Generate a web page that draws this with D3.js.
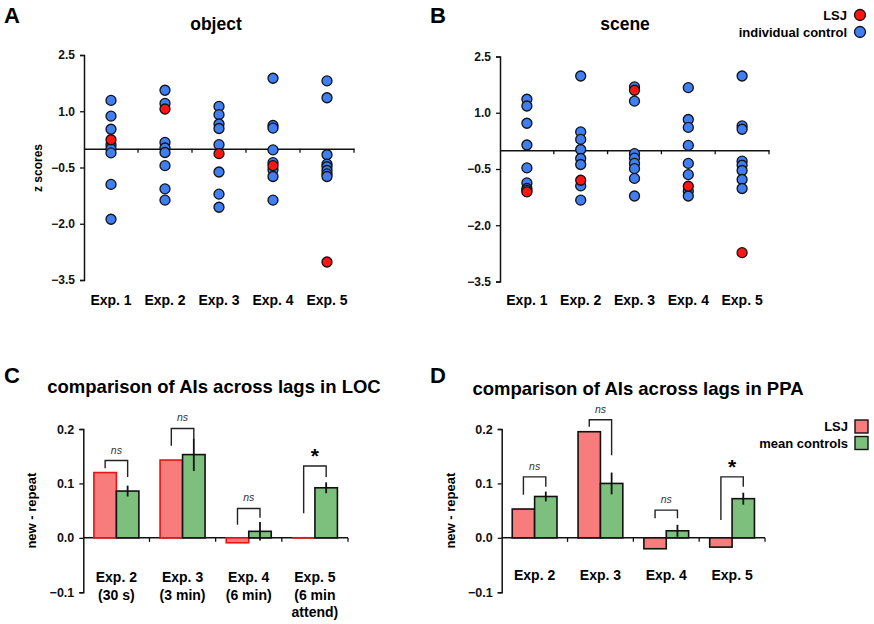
<!DOCTYPE html>
<html><head><meta charset="utf-8">
<script src="https://cdn.jsdelivr.net/npm/d3@7"></script>
<style>
body{margin:0;background:#fff;}
text{font-family:"Liberation Sans",Arial,sans-serif;}
</style></head>
<body><svg id="c" width="874" height="624"></svg>
<script>
// ---------- DATA ----------
const scatterCats = ["Exp. 1","Exp. 2","Exp. 3","Exp. 4","Exp. 5"];
const zTicks = [2.5, 1.0, -0.5, -2.0, -3.5];
const objectControls = [
  [1.29, 0.87, 0.52, 0.11, 0.0, -0.11, -0.95, -1.88],
  [1.56, 1.21, 0.17, 0.02, -0.10, -0.45, -1.07, -1.37],
  [1.13, 0.91, 0.66, 0.54, 0.11, -0.62, -1.21, -1.56],
  [1.88, 0.62, 0.55, -0.03, -0.37, -0.56, -0.74, -1.37],
  [1.81, 1.36, -0.16, -0.41, -0.48, -0.58, -0.67, -0.74]
];
const objectLSJ = [0.24, 1.06, -0.13, -0.45, -3.02];
const sceneControls = [
  [1.36, 1.18, 0.72, 0.14, -0.47, -0.87, -1.02, -1.07],
  [1.98, 0.49, 0.29, 0.02, -0.22, -0.38, -0.95, -1.33],
  [1.69, 1.31, -0.09, -0.21, -0.35, -0.49, -0.75, -1.22],
  [1.67, 0.82, 0.61, 0.13, -0.35, -0.65, -1.09, -1.22],
  [1.98, 0.65, 0.56, -0.29, -0.40, -0.54, -0.78, -1.02]
];
const sceneLSJ = [-1.11, -0.80, 1.60, -0.96, -2.73];

const barTicks = [0.2, 0.1, 0.0, -0.1];
const locCats = [["Exp. 2","(30 s)"],["Exp. 3","(3 min)"],["Exp. 4","(6 min)"],["Exp. 5","(6 min","attend)"]];
const locLSJ = [0.120, 0.143, -0.009, 0.0];
const locControls = [0.086, 0.153, 0.012, 0.092];
const locErr = [0.010, 0.030, 0.017, 0.010];
const locSig = ["ns","ns","ns","*"];
const locBracketTop = [0.142, 0.201, 0.054, 0.132];
const locBracketLeft = [0.128, 0.169, 0.024, 0.045];
const locBracketRight = [0.112, 0.183, 0.037, 0.112];

const ppaCats = [["Exp. 2"],["Exp. 3"],["Exp. 4"],["Exp. 5"]];
const ppaLSJ = [0.053, 0.195, -0.020, -0.017];
const ppaControls = [0.076, 0.100, 0.013, 0.072];
const ppaErr = [0.009, 0.020, 0.011, 0.011];
const ppaSig = ["ns","ns","ns","*"];
const ppaBracketTop = [0.112, 0.217, 0.051, 0.112];
const ppaBracketLeft = [0.079, 0.204, 0.036, 0.033];
const ppaBracketRight = [0.094, 0.152, 0.036, 0.094];

// ---------- STYLE ----------
const BLUE = "#3f7ef3", RED = "#ff1414";
const BAR_RED = "#f87c7c", BAR_GREEN = "#7dbf7d";
const svg = d3.select("#c");

function panelLetter(t, x, y){
  svg.append("text").attr("x",x).attr("y",y).attr("font-size",22).attr("font-weight","bold").text(t);
}
function title(t, x, y, size){
  svg.append("text").attr("x",x).attr("y",y).attr("text-anchor","middle")
    .attr("font-size",size).attr("font-weight","bold").text(t);
}

// ---------- SCATTER ----------
function scatter(opt){
  const x = d3.scaleBand().domain(scatterCats).range([opt.x0,opt.x1]);
  const y = d3.scaleLinear().domain([-3.5,2.5]).range([opt.yB,opt.yT]);
  const g = svg.append("g");
  const ya = g.append("g").attr("transform",`translate(${opt.x0},0)`)
    .call(d3.axisLeft(y).tickValues(zTicks).tickFormat(d3.format(".1f")).tickSize(4).tickPadding(5));
  ya.select(".domain").attr("stroke","#111").attr("stroke-width",1.5);
  ya.selectAll(".tick line").attr("stroke","#111").attr("stroke-width",1.3);
  ya.selectAll(".tick text").attr("font-size",12).attr("font-weight","bold").attr("fill","#111")
    .attr("font-family","Liberation Sans, Arial, sans-serif");
  const xa = g.append("g").attr("transform",`translate(0,${y(0)})`)
    .call(d3.axisBottom(x).tickValues([]).tickSizeOuter(0));
  xa.select(".domain").attr("stroke","#111").attr("stroke-width",1.5);
  scatterCats.forEach(c=>{
    const bx = x(c)+x.bandwidth();
    g.append("line").attr("x1",bx).attr("x2",bx).attr("y1",y(0)).attr("y2",y(0)+4)
      .attr("stroke","#111").attr("stroke-width",1.3);
  });
  scatterCats.forEach(c=>{
    g.append("text").attr("x",x(c)+x.bandwidth()/2).attr("y",305).attr("text-anchor","middle")
      .attr("font-size",14).attr("font-weight","bold").text(c);
  });
  opt.controls.forEach((arr,i)=>{
    arr.forEach(v=>{
      g.append("circle").attr("cx",x(scatterCats[i])+x.bandwidth()/2).attr("cy",y(v)).attr("r",5)
        .attr("fill",BLUE).attr("stroke","#111").attr("stroke-width",1.3);
    });
  });
  opt.lsj.forEach((v,i)=>{
    g.append("circle").attr("cx",x(scatterCats[i])+x.bandwidth()/2).attr("cy",y(v)).attr("r",5)
      .attr("fill",RED).attr("stroke","#111").attr("stroke-width",1.3);
  });
}
scatter({x0:84,x1:354,yT:55,yB:280,controls:objectControls,lsj:objectLSJ});
scatter({x0:500,x1:769,yT:56.5,yB:281.5,controls:sceneControls,lsj:sceneLSJ});
panelLetter("A",4,23); panelLetter("B",430,23);
title("object",216,30,17.5); title("scene",625,29.5,17.5);
svg.append("text").attr("transform","translate(42,168) rotate(-90)").attr("text-anchor","middle")
  .attr("font-size",12).attr("font-weight","bold").text("z scores");
[["LSJ",RED,15],["individual control",BLUE,32]].forEach(([t,c,yy])=>{
  svg.append("text").attr("x",847).attr("y",yy+4.5).attr("text-anchor","end")
    .attr("font-size",13).attr("font-weight","bold").text(t);
  svg.append("circle").attr("cx",860).attr("cy",yy).attr("r",5.5).attr("fill",c)
    .attr("stroke","#111").attr("stroke-width",1.3);
});

// ---------- BARS ----------
function bars(opt){
  const names = opt.cats.map(c=>c.join(" "));
  const x = d3.scaleBand().domain(names).range([opt.x0,opt.x1]).paddingInner(0.32).paddingOuter(0.16);
  const sub = d3.scaleBand().domain(["LSJ","ctrl"]).range([0,x.bandwidth()]);
  const y = d3.scaleLinear().domain([-0.1,0.2]).range([592.3,429]);
  const g = svg.append("g");
  const ya = g.append("g").attr("transform",`translate(${opt.x0},0)`)
    .call(d3.axisLeft(y).tickValues(barTicks).tickFormat(d3.format(".1f")).tickSize(4).tickPadding(5));
  ya.select(".domain").attr("stroke","#111").attr("stroke-width",1.5);
  ya.selectAll(".tick line").attr("stroke","#111").attr("stroke-width",1.3);
  ya.selectAll(".tick text").attr("font-size",12.5).attr("font-weight","bold").attr("fill","#111")
    .attr("font-family","Liberation Sans, Arial, sans-serif");
  g.append("line").attr("x1",opt.x0).attr("x2",opt.x1).attr("y1",y(0)).attr("y2",y(0))
    .attr("stroke","#111").attr("stroke-width",1.5);
  names.forEach(n=>{
    const bx = x(n)+x.bandwidth()+x.step()*x.paddingInner()/2;
    g.append("line").attr("x1",bx).attr("x2",bx).attr("y1",y(0)).attr("y2",y(0)+4)
      .attr("stroke","#111").attr("stroke-width",1.3);
  });
  names.forEach((n,i)=>{
    const gx = x(n);
    const rv = opt.lsj[i], cv = opt.ctrl[i];
    const rh = Math.abs(y(rv)-y(0));
    if(rh < 0.5){
      g.append("line").attr("x1",gx+sub("LSJ")).attr("x2",gx+sub("LSJ")+sub.bandwidth())
        .attr("y1",y(rv)).attr("y2",y(rv)).attr("stroke",opt.redStroke).attr("stroke-width",1.8);
    } else {
      g.append("rect").attr("x",gx+sub("LSJ")).attr("width",sub.bandwidth())
        .attr("y",y(Math.max(rv,0))).attr("height",rh)
        .attr("fill",BAR_RED).attr("stroke",opt.redStroke).attr("stroke-width",1.6);
    }
    g.append("rect").attr("x",gx+sub("ctrl")).attr("width",sub.bandwidth())
      .attr("y",y(Math.max(cv,0))).attr("height",Math.abs(y(cv)-y(0)))
      .attr("fill",BAR_GREEN).attr("stroke","#111").attr("stroke-width",1.6);
    const cx = gx+sub("ctrl")+sub.bandwidth()/2;
    const lx = gx+sub("LSJ")+sub.bandwidth()/2;
    g.append("line").attr("x1",cx).attr("x2",cx).attr("y1",y(cv+opt.err[i])).attr("y2",y(cv-opt.err[i]))
      .attr("stroke","#111").attr("stroke-width",1.8);
    g.append("path").attr("d",`M${lx},${y(opt.bl[i])}V${y(opt.bt[i])}H${cx}V${y(opt.br[i])}`)
      .attr("fill","none").attr("stroke","#222").attr("stroke-width",1.4);
    const s = opt.sig[i];
    if(s==="*"){
      g.append("text").attr("x",(lx+cx)/2).attr("y",y(opt.bt[i])-3).attr("text-anchor","middle")
        .attr("font-size",21).attr("font-weight","bold").text("*");
    } else {
      g.append("text").attr("x",(lx+cx)/2).attr("y",y(opt.bt[i])-7).attr("text-anchor","middle")
        .attr("font-size",10.5).attr("font-style","italic").attr("fill","#333").text(s);
    }
    opt.cats[i].forEach((line,j)=>{
      g.append("text").attr("x",gx+x.bandwidth()/2).attr("y",opt.labY+j*17.5).attr("text-anchor","middle")
        .attr("font-size",14).attr("font-weight","bold").text(line);
    });
  });
  svg.append("text").attr("transform",`translate(${opt.x0-47},${y(0.05)}) rotate(-90)`).attr("text-anchor","middle")
    .attr("font-size",13).attr("font-weight","bold").text("new - repeat");
}
bars({x0:83.3,x1:348,cats:locCats,lsj:locLSJ,ctrl:locControls,err:locErr,sig:locSig,
  bt:locBracketTop,bl:locBracketLeft,br:locBracketRight,redStroke:"#ee1111",labY:582});
bars({x0:501.7,x1:765,cats:ppaCats,lsj:ppaLSJ,ctrl:ppaControls,err:ppaErr,sig:ppaSig,
  bt:ppaBracketTop,bl:ppaBracketLeft,br:ppaBracketRight,redStroke:"#111",labY:580});
panelLetter("C",4,383); panelLetter("D",430,383);
title("comparison of AIs across lags in LOC",214,393,18.5);
title("comparison of AIs across lags in PPA",638,395,18.5);
[["LSJ",BAR_RED,426.5],["mean controls",BAR_GREEN,443]].forEach(([t,c,yy])=>{
  svg.append("text").attr("x",848).attr("y",yy+4.5).attr("text-anchor","end")
    .attr("font-size",13).attr("font-weight","bold").text(t);
  svg.append("rect").attr("x",855).attr("y",yy-6.5).attr("width",13).attr("height",13).attr("fill",c)
    .attr("stroke","#111").attr("stroke-width",1.4);
});
</script></body></html>
